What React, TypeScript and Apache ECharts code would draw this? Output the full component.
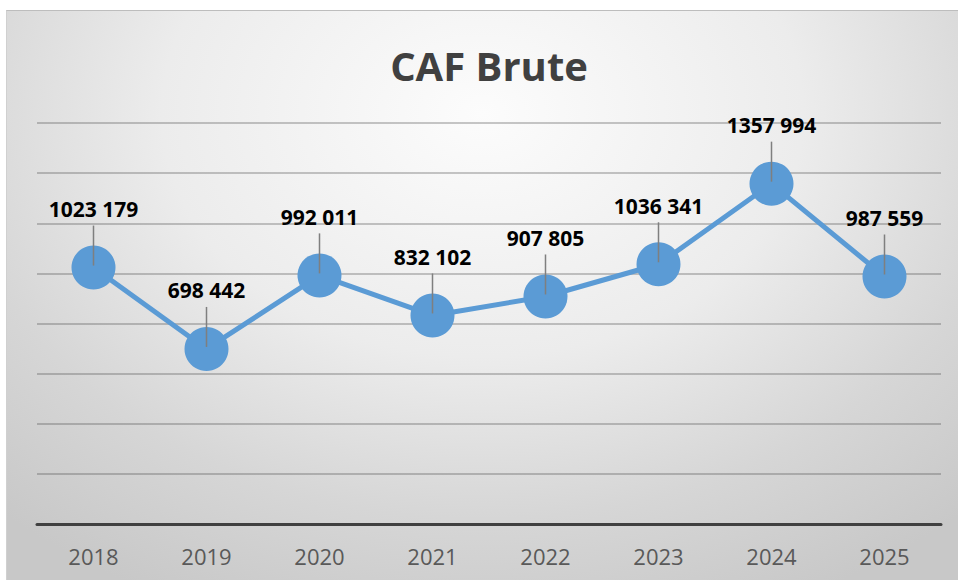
import React, { useEffect, useRef } from "react";
import * as echarts from "echarts";

const TITLE = "CAF Brute";
const categories = ["2018", "2019", "2020", "2021", "2022", "2023", "2024", "2025"];
const cafBrute = [1023179, 698442, 992011, 832102, 907805, 1036341, 1357994, 987559];
const yTicks = { min: 0, max: 1600000, interval: 200000 };

const fmt = (v: number) => {
  const s = String(Math.round(v));
  return s.length > 3 ? s.slice(0, -3) + " " + s.slice(-3) : s;
};

export default function App() {
  const ref = useRef<HTMLDivElement>(null);
  useEffect(() => {
    if (!ref.current) return;
    const chart = echarts.init(ref.current, undefined, { renderer: "svg" });
    chart.setOption({
      animation: false,
      backgroundColor: "transparent",
      title: {
        text: TITLE,
        left: "center",
        top: 40,
        textStyle: {
          fontFamily: "Open Sans",
          fontWeight: "bold",
          fontSize: 40,
          color: "#404040",
        },
      },
      grid: { left: 17, right: 17, top: 123, bottom: 56 },
      xAxis: {
        type: "category",
        data: categories,
        boundaryGap: true,
        axisTick: { show: false },
        axisLine: { lineStyle: { color: "#404040", width: 3 } },
        axisLabel: {
          margin: 21,
          fontFamily: "Open Sans",
          fontSize: 22,
          color: "#595959",
        },
        z: 5,
      },
      yAxis: {
        type: "value",
        min: yTicks.min,
        max: yTicks.max,
        interval: yTicks.interval,
        axisLabel: { show: false },
        axisLine: { show: false },
        axisTick: { show: false },
        splitLine: { lineStyle: { color: "rgba(70,70,70,0.4)", width: 1.5 } },
      },
      series: [
        {
          type: "line",
          data: cafBrute,
          symbol: "circle",
          symbolSize: 44,
          z: 3,
          lineStyle: { color: "#5b9bd5", width: 5 },
          itemStyle: { color: "#5b9bd5" },
          label: {
            show: true,
            position: "top",
            distance: 26,
            formatter: (p: any) => fmt(p.value),
            fontFamily: "Open Sans",
            fontWeight: "bold",
            fontSize: 21,
            color: "#000000",
          },
        },
        {
          type: "custom",
          z: 4,
          silent: true,
          data: cafBrute.map((v, i) => [i, v]),
          renderItem: (params: any, api: any) => {
            const p = api.coord([api.value(0), api.value(1)]);
            return {
              type: "line",
              shape: { x1: p[0], y1: p[1] - 2, x2: p[0], y2: p[1] - 42 },
              style: { stroke: "#7f7f7f", lineWidth: 1.5 },
            };
          },
        },
      ],
    });
    return () => chart.dispose();
  }, []);

  return (
    <div style={{ position: "absolute", left: 0, top: 0, width: 958, height: 580, background: "#ffffff", overflow: "hidden" }}>
      <div
        style={{
          position: "absolute",
          left: 6,
          top: 10,
          width: 952,
          height: 570,
          boxSizing: "border-box",
          borderTop: "1px solid #bdbdbd",
          borderLeft: "1px solid #d0d0d0",
          background: "radial-gradient(ellipse 75% 95% at 50% 18%, #fcfcfc 0%, #ececec 45%, #d6d6d6 75%, #c8c8c8 100%)",
        }}
      />
      <div ref={ref} style={{ position: "absolute", left: 20, top: 0, width: 938, height: 580 }} />
    </div>
  );
}
